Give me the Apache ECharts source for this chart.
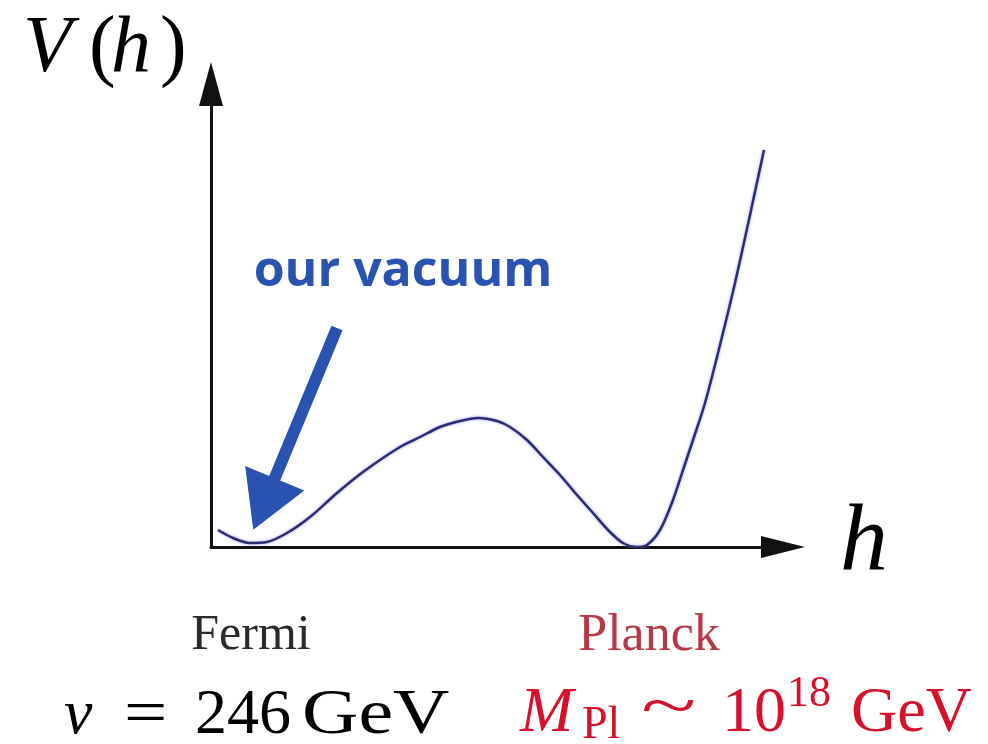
<!DOCTYPE html>
<html><head><meta charset="utf-8">
<script src="https://cdn.jsdelivr.net/npm/echarts@6/dist/echarts.min.js"></script>
<style>html,body{margin:0;padding:0;background:#fff}#c{width:988px;height:744px}</style>
</head><body><div id="c"></div>
<script>
// curve samples: h (horizontal units), V (vertical units)
const hValues = [7,22,39,56,76,99,126,152,189,209,229,249,267,286,299,316,332,349,366,382,399,412,426,436,449,462,472,482,494,509,524,539,553];
const vValues = [17,9,4,5,14,30,54,75,100,110,120,126,129,126,120,107,90,72,52,34,15,4,0,2,17,47,77,107,144,202,264,332,397];
const arrowTail = [126,219];
const arrowHead = [53,43];
const labels = {
  yName: ['V','(','h',')'], xName: 'h', fermi: 'Fermi', planck: 'Planck', vacuum: 'our vacuum'
};
const data = hValues.map((h,i)=>[h, vValues[i]]);
const serif = '"Liberation Serif", "DejaVu Serif", serif';
const red = '#d8102e';
function t(x, y, text, font, fill, extra){
  return Object.assign({type:'text', x:x, y:y, style:{text:text, textAlign:'left', textVerticalAlign:'middle', fill:fill, font:font}}, extra||{});
}
const chart = echarts.init(document.getElementById('c'));
chart.setOption({
  animation:false,
  backgroundColor:'#fff',
  grid:{left:211, right:205, top:84, bottom:197},
  xAxis:{type:'value', min:0, max:572,
    axisLine:{show:true, symbol:['none','triangle'], symbolSize:[22,44], lineStyle:{color:'#111', width:3}},
    axisTick:{show:false}, axisLabel:{show:false}, splitLine:{show:false}},
  yAxis:{type:'value', min:0, max:463,
    axisLine:{show:true, symbol:['none','triangle'], symbolSize:[24,44], lineStyle:{color:'#111', width:3}},
    axisTick:{show:false}, axisLabel:{show:false}, splitLine:{show:false}},
  series:[{
    type:'line', data:data, smooth:0.3, showSymbol:false,
    lineStyle:{color:'#2c2c72', width:2.5, shadowColor:'rgba(90,90,255,0.6)', shadowBlur:3},
    markLine:{
      silent:true, animation:false,
      symbol:['none','triangle'], symbolSize:[64,56],
      label:{show:false},
      lineStyle:{color:'#2a52b0', width:12, type:'solid'},
      itemStyle:{color:'#2a52b0'},
      data:[[{coord:arrowTail},{coord:arrowHead}]]
    }
  }],
  graphic:[
    t(23, 50, labels.yName[0], 'italic 80px '+serif, '#000'),
    t(89, 50, labels.yName[1], '80px '+serif, '#000'),
    t(111, 50, labels.yName[2], 'italic 80px '+serif, '#000'),
    t(160, 50, labels.yName[3], '80px '+serif, '#000'),
    {type:'text', x:864, y:545, style:{text:labels.xName, textAlign:'center', textVerticalAlign:'middle', fill:'#000', font:'italic 96px '+serif}},
    {type:'text', x:403, y:272, style:{text:labels.vacuum, textAlign:'center', textVerticalAlign:'middle', fill:'#2a52b0', font:'bold 50px "Open Sans", sans-serif'}},
    {type:'text', x:251, y:636, style:{text:labels.fermi, textAlign:'center', textVerticalAlign:'middle', fill:'#2a2a2a', font:'50px '+serif}},
    {type:'text', x:649, y:636, style:{text:labels.planck, textAlign:'center', textVerticalAlign:'middle', fill:'#b83848', font:'52px '+serif}},
    // v = 246 GeV
    t(64, 716, 'v', 'italic 64px '+serif, '#000'),
    t(124, 716, '=', '64px '+serif, '#000', {scaleX:1.2}),
    t(195, 716, '246', '64px '+serif, '#000'),
    t(302, 716, 'GeV', '64px '+serif, '#000', {scaleX:1.22}),
    // M_Pl ~ 10^18 GeV
    t(520, 714, 'M', 'italic 64px '+serif, red),
    t(582, 726, 'Pl', '46px '+serif, red),
    t(641, 710, '~', '64px '+serif, red, {scaleX:1.6}),
    t(722, 714, '10', '64px '+serif, red),
    t(787, 694, '18', '44px '+serif, red),
    t(851, 714, 'GeV', '64px '+serif, red)
  ]
});
</script></body></html>
